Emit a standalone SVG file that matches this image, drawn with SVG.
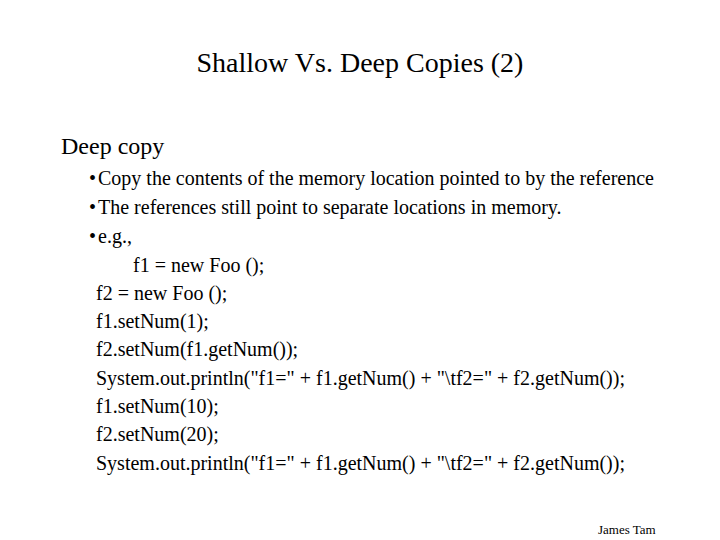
<svg xmlns="http://www.w3.org/2000/svg" width="720" height="540" viewBox="0 0 720 540">
<style>
text { font-family: "Liberation Serif", "Times New Roman", serif; fill: #000; }
.title { font-size: 28px; }
.h1 { font-size: 24px; }
.b { font-size: 20px; }
.foot { font-size: 13px; }
</style>
<rect width="720" height="540" fill="#fff"/>
<g id="title"><text class="title" x="360" y="72" text-anchor="middle">Shallow Vs. Deep Copies (2)</text></g>
<g id="body">
<text class="h1" x="61" y="154">Deep copy</text>
<text class="b" x="89" y="185">•<tspan x="98">Copy the contents of the memory location pointed to by the reference</tspan></text>
<text class="b" x="89" y="214">•<tspan x="98">The references still point to separate locations in memory.</tspan></text>
<text class="b" x="89" y="243">•<tspan x="98">e.g.,</tspan></text>
<text class="b" x="133" y="272">f1 = new Foo ();</text>
<text class="b" x="96" y="300">f2 = new Foo ();</text>
<text class="b" x="96" y="328">f1.setNum(1);</text>
<text class="b" x="96" y="356">f2.setNum(f1.getNum());</text>
<text class="b" x="96" y="385">System.out.println("f1=" + f1.getNum() + "\tf2=" + f2.getNum());</text>
<text class="b" x="96" y="413">f1.setNum(10);</text>
<text class="b" x="96" y="441">f2.setNum(20);</text>
<text class="b" x="96" y="470">System.out.println("f1=" + f1.getNum() + "\tf2=" + f2.getNum());</text>
</g>
<g id="footer"><text class="foot" x="598" y="534">James Tam</text></g>
</svg>
